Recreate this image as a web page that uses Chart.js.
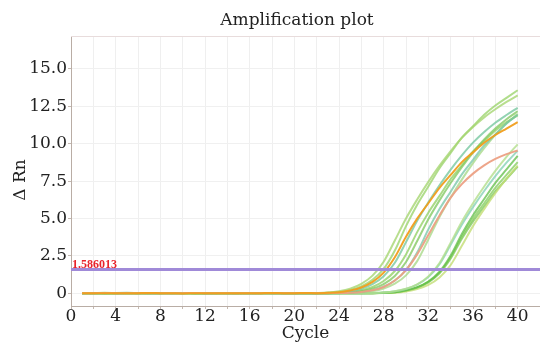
<!DOCTYPE html>
<html>
<head>
<meta charset="utf-8">
<script src="https://cdn.jsdelivr.net/npm/chart.js@4.4.1/dist/chart.umd.min.js"></script>
<style>
  html, body { margin: 0; padding: 0; background: #ffffff; }
  #wrap { width: 540px; height: 349px; }
</style>
</head>
<body>
<div id="wrap"><canvas id="c" width="540" height="349"></canvas></div>
<script>
// ---------- data ----------
const TITLE = 'Amplification plot';
const X_TITLE = 'Cycle';
const Y_TITLE = 'Δ Rn';
const THRESHOLD = 1.586013;

const cycles = [1,2,3,4,5,6,7,8,9,10,11,12,13,14,15,16,17,18,19,20,
                21,22,23,24,25,26,27,28,29,30,31,32,33,34,35,36,37,38,39,40];

const xTicks = [0,2,4,6,8,10,12,14,16,18,20,22,24,26,28,30,32,34,36,38,40];
const xTickLabels = ['0','','4','','8','','12','','16','','20','','24','','28','','32','','36','','40'];
const yTicks = [0,2.5,5,7.5,10,12.5,15];
const yTickLabels = ['0','2.5','5.0','7.5','10.0','12.5','15.0'];

// ΔRn per cycle (cycles 1..40), one array per well
const well1 = [0.02,0.01,0.00,0.01,0.02,0.01,0.00,-0.01,0.00,0.01, 0.01,0.02,0.01,0.00,0.00,0.01,0.00,0.01,0.01,0.00, 0.01,0.02,0.05,0.14,0.31,0.63,1.18,2.11,3.53,5.00, 6.27,7.45,8.53,9.51,10.39,11.12,11.76,12.30,12.79,13.23];
const well2 = [0.00,0.01,0.03,0.02,0.01,0.00,0.01,0.02,0.01,0.00, 0.01,0.00,-0.01,0.00,0.01,0.02,0.01,0.00,0.00,0.01, 0.00,0.01,0.03,0.08,0.22,0.46,0.90,1.63,2.86,4.49, 5.92,7.14,8.36,9.38,10.40,11.17,11.93,12.55,13.06,13.57];
const well3 = [0.01,0.00,0.00,0.02,0.03,0.02,0.01,0.00,0.00,0.01, 0.02,0.01,0.00,0.01,0.01,0.00,0.02,0.01,0.00,0.00, 0.00,0.01,0.02,0.05,0.13,0.30,0.61,1.14,2.04,3.42, 4.85,6.08,7.22,8.27,9.22,10.07,10.78,11.40,11.92,12.40];
const well4 = [0.00,0.00,0.01,0.01,0.00,0.01,0.02,0.01,0.00,-0.01, 0.00,0.01,0.00,0.00,0.01,0.00,0.01,0.02,0.01,0.01, 0.02,0.01,0.03,0.07,0.19,0.39,0.76,1.38,2.41,3.78, 4.99,6.02,7.05,7.91,8.77,9.42,10.06,10.58,11.01,11.44];
const well5 = [0.01,0.02,0.01,0.00,0.00,0.01,0.00,0.01,0.02,0.02, 0.01,0.00,0.00,0.01,0.00,0.00,0.01,0.01,0.00,0.01, 0.00,0.00,0.01,0.02,0.05,0.14,0.31,0.62,1.16,2.09, 3.49,4.95,6.21,7.37,8.44,9.41,10.28,11.01,11.64,12.17];
const well6 = [0.01,0.01,0.00,0.00,0.02,0.01,0.01,0.00,0.01,0.00, 0.00,0.01,0.02,0.01,0.00,0.01,0.01,0.00,0.00,0.01, 0.00,0.00,0.00,0.01,0.03,0.08,0.21,0.44,0.85,1.55, 2.72,4.27,5.63,6.79,7.95,8.92,9.89,10.62,11.35,11.93];
const well7 = [0.00,0.01,0.01,0.00,0.01,0.00,0.00,0.01,0.02,0.01, 0.00,0.00,0.01,0.01,0.00,0.02,0.01,0.00,0.01,0.00, 0.01,0.00,0.01,0.03,0.07,0.20,0.42,0.82,1.49,2.60, 4.09,5.39,6.51,7.63,8.56,9.49,10.18,10.88,11.44,11.90];
const well8 = [0.01,0.00,0.00,0.01,0.01,0.02,0.01,0.00,0.00,0.01, 0.01,0.00,0.01,0.00,0.01,0.01,0.00,0.00,0.01,0.01, 0.00,0.01,0.00,0.01,0.02,0.05,0.14,0.32,0.64,1.20, 2.15,3.60,5.10,6.40,7.60,8.70,9.70,10.60,11.35,12.00];
const well9 = [0.01,0.01,0.02,0.01,0.00,0.00,0.01,0.01,0.00,0.01, 0.02,0.01,0.00,0.00,0.01,0.00,0.01,0.01,0.00,0.00, 0.01,0.00,0.01,0.02,0.04,0.09,0.20,0.42,0.85,1.55, 2.60,3.90,5.20,6.40,7.30,8.00,8.55,8.98,9.30,9.55];
const well10 = [0.00,0.01,0.01,0.02,0.01,0.00,0.00,0.01,0.01,0.00, 0.01,0.02,0.01,0.00,0.00,0.01,0.01,0.02,0.01,0.00, 0.00,0.01,0.00,0.01,0.00,0.01,0.02,0.05,0.13,0.30, 0.60,1.13,2.02,3.38,4.79,6.02,7.14,8.18,9.12,9.96];
const well11 = [0.01,0.00,0.01,0.01,0.00,0.01,0.02,0.01,0.00,0.00, 0.01,0.01,0.00,0.01,0.02,0.01,0.00,0.00,0.01,0.01, 0.00,0.01,0.01,0.00,0.01,0.01,0.02,0.05,0.13,0.29, 0.58,1.08,1.94,3.24,4.59,5.76,6.84,7.83,8.73,9.54];
const well12 = [0.02,0.01,0.00,0.00,0.01,0.01,0.00,0.01,0.01,0.02, 0.01,0.00,0.00,0.01,0.01,0.00,0.01,0.02,0.01,0.00, 0.01,0.00,0.00,0.01,0.01,0.00,0.01,0.03,0.07,0.20, 0.41,0.79,1.44,2.52,3.96,5.22,6.30,7.38,8.28,9.18];
const well13 = [0.00,0.00,0.01,0.01,0.02,0.01,0.00,0.00,0.01,0.01, 0.00,0.01,0.01,0.02,0.00,0.00,0.01,0.00,0.01,0.01, 0.00,0.01,0.00,0.01,0.00,0.01,0.01,0.03,0.07,0.19, 0.39,0.76,1.38,2.41,3.78,4.99,6.02,7.05,7.91,8.77];
const well14 = [0.01,0.01,0.00,0.01,0.00,0.00,0.01,0.02,0.01,0.00, 0.01,0.00,0.00,0.01,0.01,0.02,0.00,0.01,0.00,0.00, 0.01,0.00,0.01,0.01,0.00,0.01,0.01,0.02,0.04,0.12, 0.28,0.56,1.06,1.89,3.17,4.49,5.63,6.69,7.66,8.54];
const well15 = [0.00,0.01,0.02,0.01,0.00,0.01,0.00,0.00,0.01,0.01, 0.02,0.01,0.00,0.00,0.01,0.00,0.00,0.01,0.01,0.00, 0.00,0.01,0.00,0.00,0.01,0.00,0.01,0.02,0.07,0.18, 0.37,0.73,1.33,2.32,3.65,4.81,5.81,6.81,7.64,8.47];

// ---------- styling ----------
const wells = [
  { v: well4,  c: 'rgba(240,158,30,0.95)', o: -1 },
  { v: well9,  c: 'rgba(236,160,132,0.95)', o: -1 },
  { v: well1,  c: 'rgba(166,214,114,0.8)', o: 0 },
  { v: well2,  c: 'rgba(150,210,100,0.75)', o: 0 },
  { v: well3,  c: 'rgba(111,196,154,0.75)', o: 0 },
  { v: well5,  c: 'rgba(124,198,90,0.75)', o: 0 },
  { v: well6,  c: 'rgba(116,198,166,0.75)', o: 0 },
  { v: well7,  c: 'rgba(141,207,94,0.75)', o: 0 },
  { v: well8,  c: 'rgba(169,217,138,0.8)', o: 0 },
  { v: well10, c: 'rgba(179,222,140,0.8)', o: 0 },
  { v: well11, c: 'rgba(127,207,176,0.75)', o: 0 },
  { v: well12, c: 'rgba(95,189,69,0.75)', o: 0 },
  { v: well13, c: 'rgba(130,204,88,0.75)', o: 0 },
  { v: well14, c: 'rgba(195,221,116,0.8)', o: 0 },
  { v: well15, c: 'rgba(120,198,84,0.75)', o: 0 }
];

const datasets = wells.map((w, k) => ({
  label: 'well ' + (k + 1),
  data: w.v.map((y, i) => ({ x: cycles[i], y: y })),
  borderColor: w.c,
  borderWidth: 2,
  pointRadius: 0,
  fill: false,
  cubicInterpolationMode: 'monotone',
  order: w.o
}));

datasets.push({
  label: 'threshold',
  data: [{ x: 0, y: THRESHOLD }, { x: 42, y: THRESHOLD }],
  borderColor: '#a08ad8',
  borderWidth: 3,
  pointRadius: 0,
  fill: false,
  order: -2
});

const FONT = '"DejaVu Serif", serif';

const decor = {
  id: 'decor',
  afterDraw(chart) {
    const { ctx, chartArea, scales } = chart;
    ctx.save();
    ctx.strokeStyle = '#e8dcdc';
    ctx.lineWidth = 1;
    ctx.beginPath();
    ctx.moveTo(chartArea.left, chartArea.top + 0.5);
    ctx.lineTo(chartArea.right, chartArea.top + 0.5);
    ctx.stroke();

    ctx.fillStyle = '#222';
    ctx.font = '17px ' + FONT;
    ctx.textAlign = 'center';
    ctx.textBaseline = 'alphabetic';
    ctx.fillText(TITLE, 297, 25);
    ctx.fillText(X_TITLE, (chartArea.left + chartArea.right) / 2, 338);

    ctx.save();
    ctx.translate(25, 180);
    ctx.rotate(-Math.PI / 2);
    ctx.fillText(Y_TITLE, 0, 0);
    ctx.restore();

    const ty = scales.y.getPixelForValue(THRESHOLD);
    ctx.font = 'bold 12px "Liberation Serif", serif';
    ctx.fillStyle = '#e8232b';
    ctx.textAlign = 'left';
    ctx.fillText(THRESHOLD.toFixed(6), chartArea.left + 1, ty - 1.5);
    ctx.restore();
  }
};

new Chart(document.getElementById('c'), {
  type: 'line',
  data: { datasets },
  options: {
    responsive: false,
    animation: false,
    devicePixelRatio: 1,
    layout: { padding: { top: 36, right: 0, bottom: 0, left: 0 } },
    plugins: { legend: { display: false }, tooltip: { enabled: false }, title: { display: false } },
    scales: {
      x: {
        type: 'linear', min: 0, max: 42,
        afterBuildTicks: s => { s.ticks = xTicks.map(v => ({ value: v })); },
        afterFit: s => { s.height = 43; },
        ticks: {
          autoSkip: false, maxRotation: 0, minRotation: 0, padding: -3,
          color: '#222', font: { family: FONT, size: 17 },
          callback: v => { const i = xTicks.indexOf(v); return i >= 0 ? xTickLabels[i] : ''; }
        },
        grid: { color: '#efefef', tickColor: '#c4b8b0', tickLength: 3 },
        border: { color: '#b9ada5', width: 1 }
      },
      y: {
        type: 'linear', min: -0.85, max: 17.2,
        afterBuildTicks: s => { s.ticks = yTicks.map(v => ({ value: v })); },
        afterFit: s => { s.width = 71; },
        ticks: {
          padding: 1, color: '#222', font: { family: FONT, size: 17 },
          callback: v => { const i = yTicks.indexOf(v); return i >= 0 ? yTickLabels[i] : ''; }
        },
        grid: { color: '#f0f0f0', tickColor: '#c4b8b0', tickLength: 3 },
        border: { color: '#b9ada5', width: 1 }
      }
    }
  },
  plugins: [decor]
});
</script>
</body>
</html>
